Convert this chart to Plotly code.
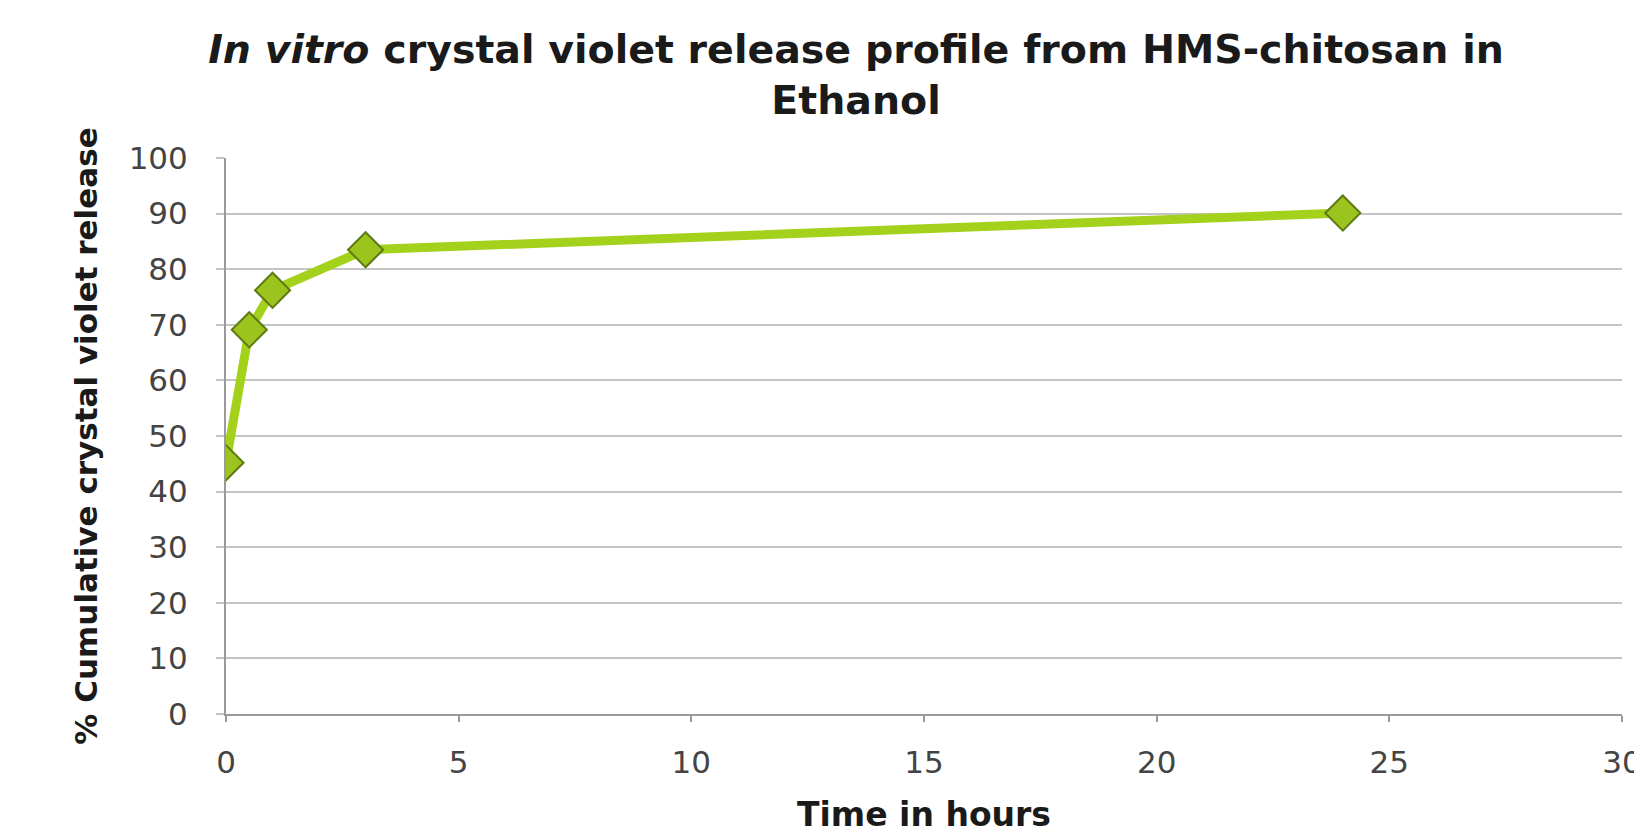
import plotly.graph_objects as go

time_h = [0, 0.5, 1, 3, 24]
release_pct = [45.2, 69.1, 76.2, 83.5, 90.1]
x_ticks = [0, 5, 10, 15, 20, 25, 30]
y_ticks = [0, 10, 20, 30, 40, 50, 60, 70, 80, 90, 100]

FONT = "DejaVu Sans"

fig = go.Figure()
fig.add_trace(go.Scatter(
    x=time_h, y=release_pct, mode="lines+markers",
    line=dict(color="#A4D21C", width=9),
    marker=dict(symbol="diamond", size=27, color="#9CC41E",
                line=dict(color="#5E7A12", width=2)),
    showlegend=False,
))

fig.update_layout(
    width=1642, height=833,
    margin=dict(l=218, r=28, t=150, b=127),
    paper_bgcolor="white", plot_bgcolor="white",
    title=dict(
        text="<i>In vitro</i> crystal violet release profile from HMS-chitosan in<br>Ethanol",
        x=848/1642, xanchor="center", xref="container",
        y=1 - 55/833, yanchor="top", yref="container",
        font=dict(family=FONT, size=39.5, color="#1a1a1a", weight="bold"),
    ),
    xaxis=dict(
        range=[0, 30], tickvals=x_ticks, showgrid=False, automargin=False,
        showline=True, linecolor="#9a9a9a", linewidth=2,
        ticks="outside", ticklen=6, tickcolor="#9a9a9a", tickwidth=2,
        ticklabelstandoff=14,
        tickfont=dict(family=FONT, size=31, color="#444444"),
        zeroline=False,
        title=dict(text="Time in hours", standoff=24,
                   font=dict(family=FONT, size=33, color="#1a1a1a", weight="bold")),
    ),
    yaxis=dict(
        range=[0, 100], tickvals=y_ticks, showgrid=True, automargin=False,
        gridcolor="#C4C4C4", gridwidth=2,
        showline=True, linecolor="#9a9a9a", linewidth=2,
        ticks="outside", ticklen=8, tickcolor="#C4C4C4", tickwidth=2,
        ticklabelstandoff=22,
        tickfont=dict(family=FONT, size=31, color="#444444"),
        zeroline=False,
        title=dict(text="% Cumulative crystal violet release", standoff=22,
                   font=dict(family=FONT, size=31, color="#1a1a1a", weight="bold")),
    ),
)

fig.write_html("out.html")
